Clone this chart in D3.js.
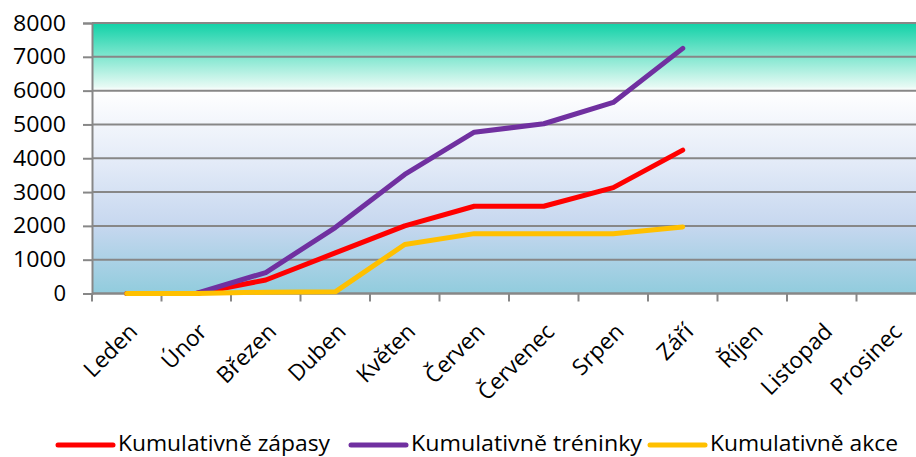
<!DOCTYPE html>
<html><head><meta charset="utf-8">
<script src="https://cdn.jsdelivr.net/npm/d3@7"></script>
<style>
body{margin:0;background:#fff;}
svg{display:block;}
</style></head>
<body>
<svg id="c" width="916" height="457"></svg>
<script>
const months = ["Leden","Únor","Březen","Duben","Květen","Červen","Červenec","Srpen","Září","Říjen","Listopad","Prosinec"];
const zapasy = [0,0,400,1200,2000,2580,2580,3130,4240];
const treninky = [0,0,620,1950,3520,4770,5020,5650,7250];
const akce = [0,0,40,50,1450,1770,1770,1770,1970];
const yTicks = [0,1000,2000,3000,4000,5000,6000,7000,8000];
const seriesNames = ["Kumulativně zápasy","Kumulativně tréninky","Kumulativně akce"];
const seriesColors = ["#FF0000","#7030A0","#FFC000"];

(function(){
const svg = d3.select("#c");
const pL = 92, pR = 926, pT = 23, pB = 293.5;
const x = d3.scaleBand().domain(months).range([pL, pR]).padding(0);
const y = d3.scaleLinear().domain([0, 8000]).range([pB, pT]);

// background gradient
const defs = svg.append("defs");
const g = defs.append("linearGradient").attr("id","bg").attr("x1",0).attr("y1",0).attr("x2",0).attr("y2",1);
[[0,"#10D1A7"],[0.235,"#E6FAF4"],[0.25,"#FFFFFF"],[0.5,"#E5ECF8"],[0.75,"#C6D7EF"],[1,"#91CCDD"]]
  .forEach(([o,c])=>g.append("stop").attr("offset",o).attr("stop-color",c));
svg.append("rect").attr("x",pL).attr("y",pT).attr("width",pR-pL).attr("height",pB-pT).attr("fill","url(#bg)");

// gridlines
svg.append("g").selectAll("line").data(yTicks).join("line")
  .attr("x1",pL).attr("x2",pR).attr("y1",d=>y(d)).attr("y2",d=>y(d))
  .attr("stroke","#878787").attr("stroke-width",2);

// y axis
const ya = svg.append("g").attr("transform",`translate(${pL},0)`)
  .call(d3.axisLeft(y).tickValues(yTicks).tickSize(9).tickPadding(17).tickFormat(d3.format("d")));
ya.select(".domain").attr("stroke","#878787").attr("stroke-width",2);
ya.selectAll(".tick line").attr("stroke","#878787").attr("stroke-width",2);
ya.selectAll("text").attr("font-family","Open Sans").attr("font-size",22).attr("fill","#000")
  .attr("textLength",53).attr("lengthAdjust","spacingAndGlyphs");
ya.selectAll(".tick").filter(d=>d===0).select("text").attr("textLength",null);

// x axis ticks at band edges
const edges = months.map(m=>x(m)).concat([pR]);
svg.append("g").selectAll("line").data(edges).join("line")
  .attr("x1",d=>d).attr("x2",d=>d).attr("y1",pB).attr("y2",pB+8)
  .attr("stroke","#878787").attr("stroke-width",2);
svg.append("line").attr("x1",pL).attr("x2",pR).attr("y1",pB).attr("y2",pB)
  .attr("stroke","#878787").attr("stroke-width",2);
svg.append("g").selectAll("text").data(months).join("text")
  .attr("transform",d=>`translate(${x(d)+x.bandwidth()/2+12},${333}) rotate(-45)`)
  .attr("text-anchor","end").attr("font-family","Open Sans").attr("font-size",22.5).attr("fill","#000")
  .text(d=>d);

// lines
const line = d3.line().x((d,i)=>x(months[i])+x.bandwidth()/2).y(d=>y(d));
[zapasy,treninky,akce].forEach((s,i)=>{
  svg.append("path").attr("d",line(s)).attr("fill","none").attr("stroke",seriesColors[i])
    .attr("stroke-width",5).attr("stroke-linejoin","round").attr("stroke-linecap","round");
});

// legend
const legX = [58,351,650];
const textW = [212,231,188];
seriesNames.forEach((n,i)=>{
  svg.append("line").attr("x1",legX[i]).attr("x2",legX[i]+55).attr("y1",445).attr("y2",445)
    .attr("stroke",seriesColors[i]).attr("stroke-width",5).attr("stroke-linecap","round");
  svg.append("text").attr("x",legX[i]+60).attr("y",451).attr("font-family","Open Sans").attr("font-size",21)
    .attr("fill","#000").attr("textLength",textW[i]).attr("lengthAdjust","spacingAndGlyphs").text(n);
});
})();
</script>
</body></html>
